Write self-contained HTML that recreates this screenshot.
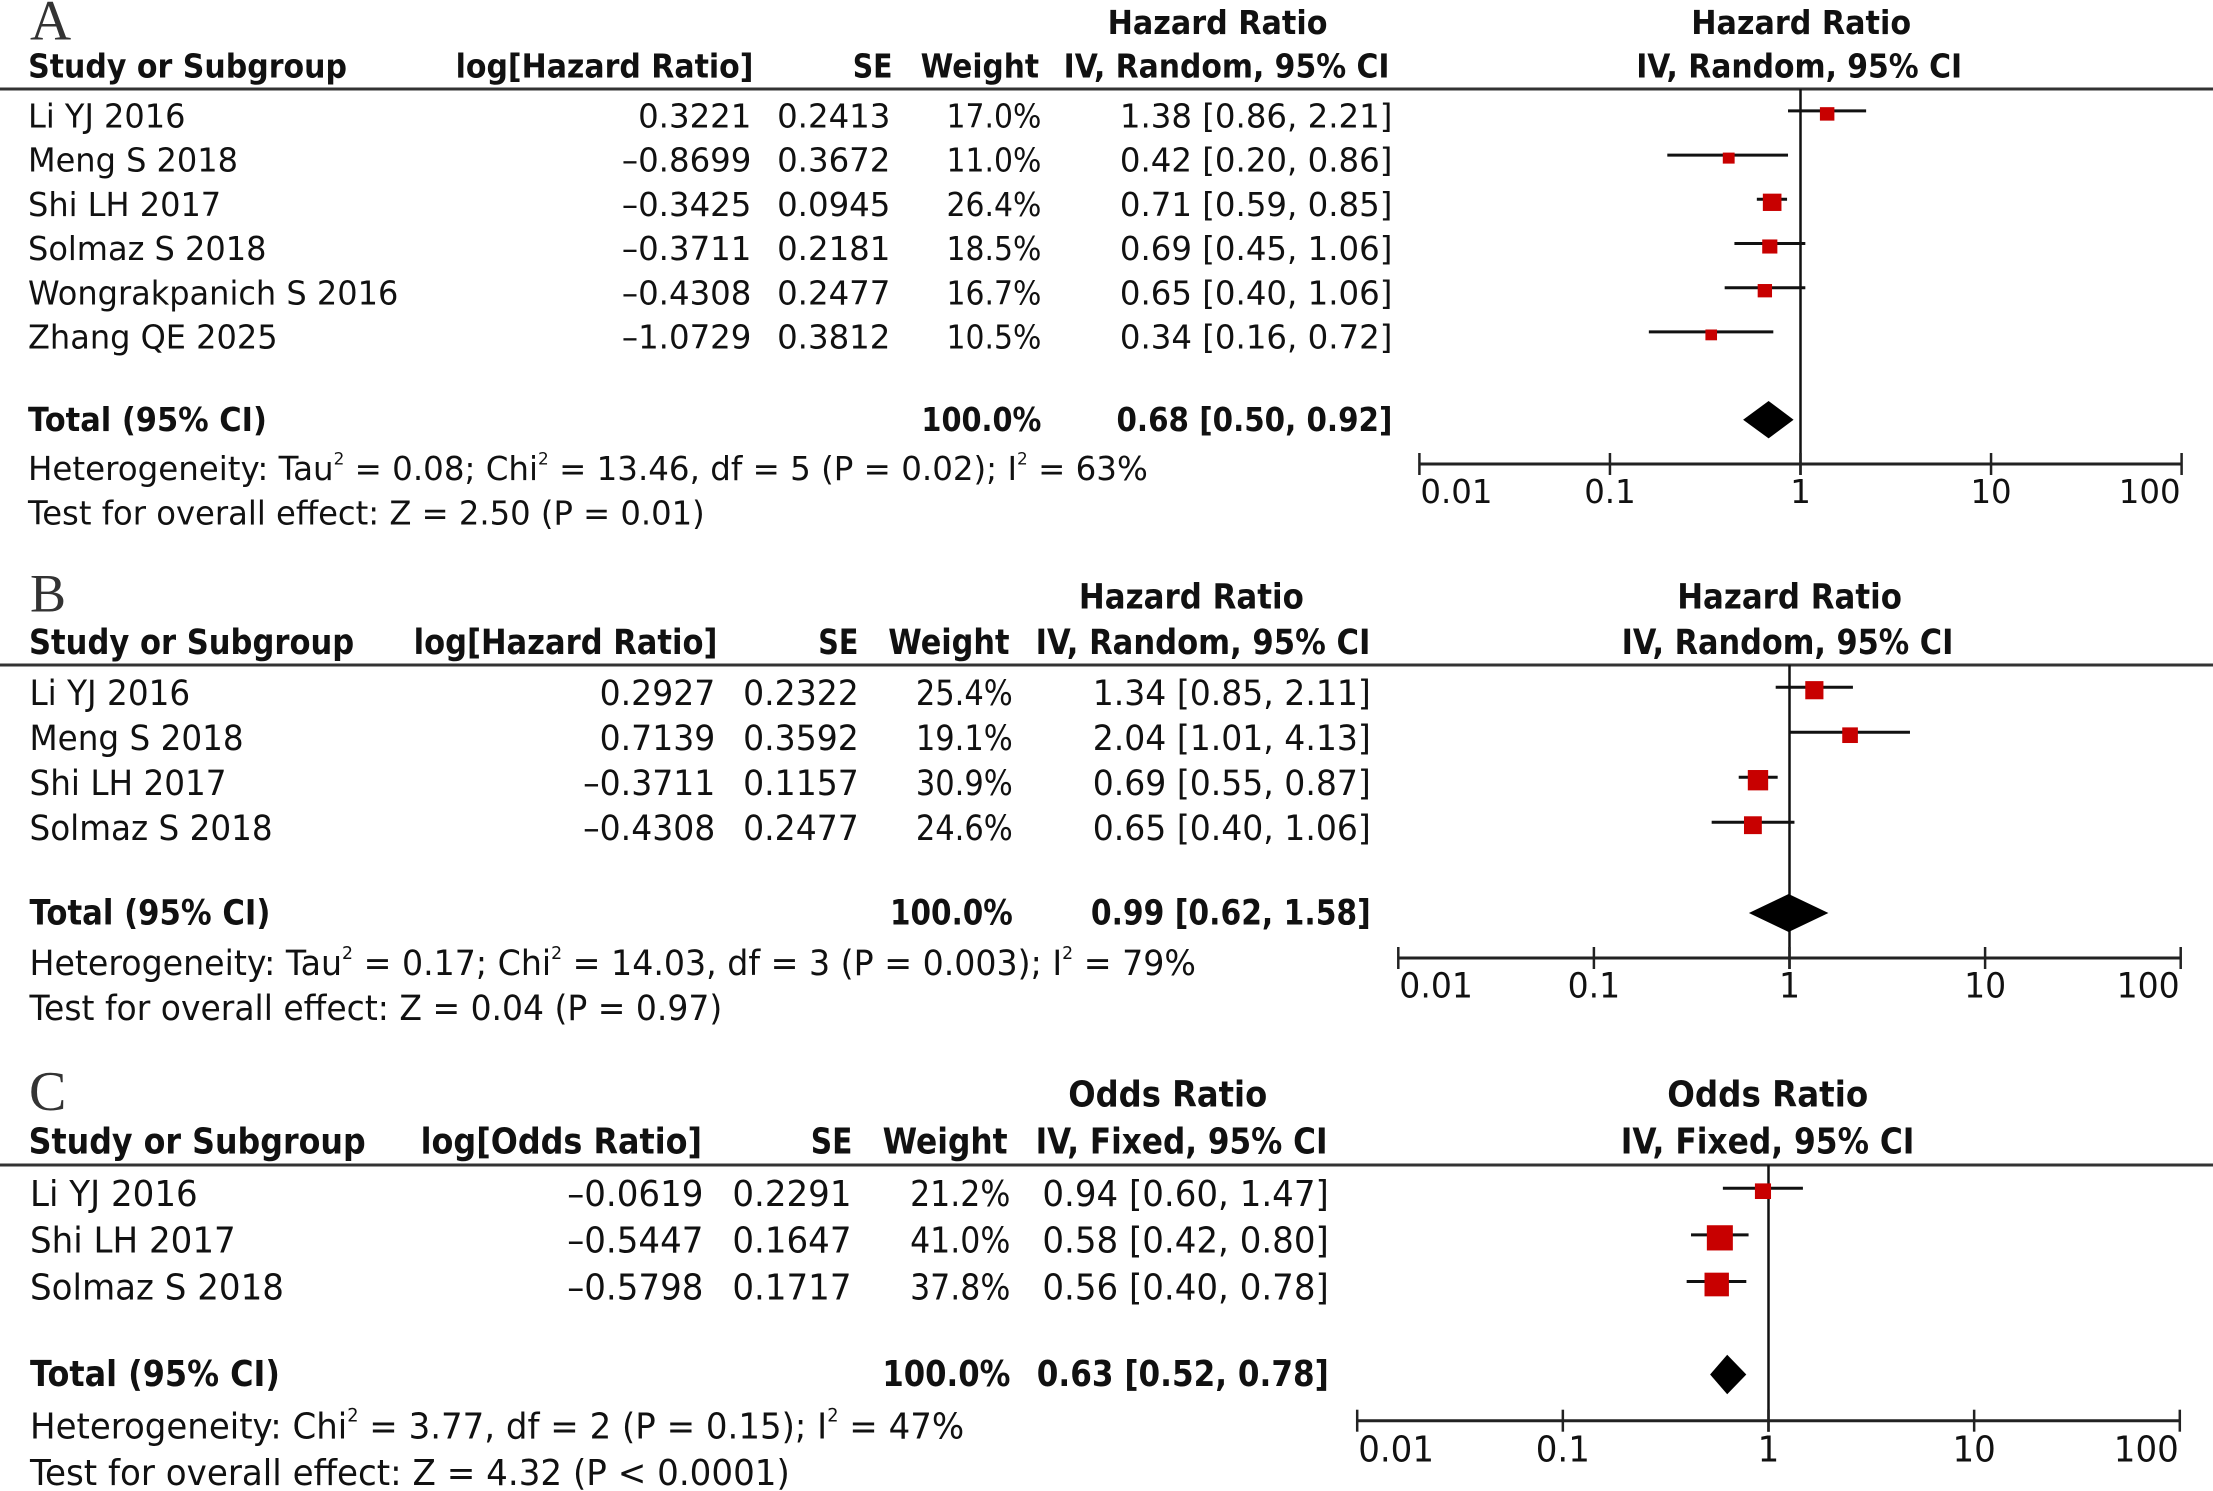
<!DOCTYPE html>
<html lang="en">
<head>
<meta charset="utf-8">
<title>Forest plots A, B and C</title>
<style>
  html, body { margin: 0; padding: 0; background: #fff; }
  svg { display: block; }
  text { font-family: "DejaVu Sans", "Liberation Sans", sans-serif; fill: #111; }
  text.letter { font-family: "Liberation Serif", serif; fill: #333; }
  text.bold { font-weight: 700; }
</style>
</head>
<body>
<svg id="figure" xmlns="http://www.w3.org/2000/svg" width="2213" height="1491" viewBox="0 0 2213 1491">
  <rect width="2213" height="1491" fill="#fff"/>
</svg>
<script>
// ---- Shared axis data ----
var tickValues = [0.01, 0.1, 1, 10, 100];
var tickLabels = ['0.01', '0.1', '1', '10', '100'];

// ---- Panel A data ----
var aStudies = ['Li YJ 2016', 'Meng S 2018', 'Shi LH 2017', 'Solmaz S 2018', 'Wongrakpanich S 2016', 'Zhang QE 2025'];
var aLogEffect = [0.3221, -0.8699, -0.3425, -0.3711, -0.4308, -1.0729];
var aSE = [0.2413, 0.3672, 0.0945, 0.2181, 0.2477, 0.3812];
var aWeight = [17.0, 11.0, 26.4, 18.5, 16.7, 10.5];
var aRatio = [1.38, 0.42, 0.71, 0.69, 0.65, 0.34];
var aLower = [0.86, 0.20, 0.59, 0.45, 0.40, 0.16];
var aUpper = [2.21, 0.86, 0.85, 1.06, 1.06, 0.72];
var aTotal = [0.68, 0.50, 0.92];
var aNotes = ['Heterogeneity: Tau^ = 0.08; Chi^ = 13.46, df = 5 (P = 0.02); I^ = 63%', 'Test for overall effect: Z = 2.50 (P = 0.01)'];

// ---- Panel B data ----
var bStudies = ['Li YJ 2016', 'Meng S 2018', 'Shi LH 2017', 'Solmaz S 2018'];
var bLogEffect = [0.2927, 0.7139, -0.3711, -0.4308];
var bSE = [0.2322, 0.3592, 0.1157, 0.2477];
var bWeight = [25.4, 19.1, 30.9, 24.6];
var bRatio = [1.34, 2.04, 0.69, 0.65];
var bLower = [0.85, 1.01, 0.55, 0.40];
var bUpper = [2.11, 4.13, 0.87, 1.06];
var bTotal = [0.99, 0.62, 1.58];
var bNotes = ['Heterogeneity: Tau^ = 0.17; Chi^ = 14.03, df = 3 (P = 0.003); I^ = 79%', 'Test for overall effect: Z = 0.04 (P = 0.97)'];

// ---- Panel C data ----
var cStudies = ['Li YJ 2016', 'Shi LH 2017', 'Solmaz S 2018'];
var cLogEffect = [-0.0619, -0.5447, -0.5798];
var cSE = [0.2291, 0.1647, 0.1717];
var cWeight = [21.2, 41.0, 37.8];
var cRatio = [0.94, 0.58, 0.56];
var cLower = [0.60, 0.42, 0.40];
var cUpper = [1.47, 0.80, 0.78];
var cTotal = [0.63, 0.52, 0.78];
var cNotes = ['Heterogeneity: Chi^ = 3.77, df = 2 (P = 0.15); I^ = 47%', 'Test for overall effect: Z = 4.32 (P < 0.0001)'];

var SVGNS = 'http://www.w3.org/2000/svg';
var figure = document.getElementById('figure');

function shape(parent, tag, name, props) {
  var el = document.createElementNS(SVGNS, tag);
  
  
  for (var k in props) { el.setAttribute(k, props[k]); }
  parent.appendChild(el);
  return el;
}

// Fills a text element, turning each "^" marker into a raised superscript 2.
function fillText(el, str, size) {
  var parts = str.split('^');
  var lift = size * 0.47;
  parts.forEach(function (part, i) {
    el.appendChild(document.createTextNode(part));
    if (i < parts.length - 1) {
      var sup = document.createElementNS(SVGNS, 'tspan');
      
      
      sup.setAttribute('font-size', size * 0.52);
      sup.setAttribute('dy', -lift);
      sup.textContent = '2';
      el.appendChild(sup);
      var reset = document.createElementNS(SVGNS, 'tspan');
      reset.setAttribute('dy', lift);
      reset.textContent = parts[i + 1];
      el.appendChild(reset);
      parts[i + 1] = '';
    }
  });
}

// Draws text horizontally squeezed: pass opt.w for an exact width, or opt.sx for a scale.
function label(parent, name, str, x, y, opt) {
  var el = document.createElementNS(SVGNS, 'text');
  
  
  el.setAttribute('font-size', opt.size);
  el.setAttribute('text-anchor', opt.anchor || 'start');
  if (opt.bold) { el.setAttribute('class', 'bold'); }
  if (opt.letter) { el.setAttribute('class', 'letter'); }
  fillText(el, str, opt.size);
  parent.appendChild(el);
  var sx = opt.sx || 1;
  if (opt.w) { sx = opt.w / el.getComputedTextLength(); }
  el.setAttribute('transform', 'translate(' + x + ',' + y + ') scale(' + sx.toFixed(4) + ',1)');
  return el;
}

function fmtSigned(v) { return v.toFixed(4).replace('-', '\u2013'); }
function fmtCI(r, lo, hi) { return r.toFixed(2) + ' [' + lo.toFixed(2) + ', ' + hi.toFixed(2) + ']'; }

function drawPanel(key, d, L) {
  var g = shape(figure, 'g', 'panel-' + key, {});
  var xScale = function (v) { return L.axisOne + Math.log10(v) * L.decade; };
  var yText = function (i) { return L.rowStart + L.textShift + i * L.rowStep; };
  var yLine = function (i) { return L.rowStart - 17.8 + i * L.rowStep; };

  label(g, 'panel-letter', key.toUpperCase(), L.letterX, L.letterY, { size: L.letterSize, letter: true });

  // Column headers
  function hdr(name, str, x, y, w) { label(g, name, str, x, y, { size: L.font, bold: true, w: w }); }
  hdr('study-header', 'Study or Subgroup', L.hStudy[0], L.hY2, L.hStudy[1]);
  hdr('log-effect-header', d.logHeader, L.hLog[0], L.hY2, L.hLog[1]);
  hdr('se-header', 'SE', L.hSE[0], L.hY2, L.hSE[1]);
  hdr('weight-header', 'Weight', L.hWeight[0], L.hY2, L.hWeight[1]);
  hdr('effect-header', d.effectName, L.hEffect[0], L.hY1, L.hEffect[1]);
  hdr('method-header', d.method, L.hMethod[0], L.hY2, L.hMethod[1]);
  hdr('plot-effect-title', d.effectName, L.pEffect[0], L.hY1, L.pEffect[1]);
  hdr('plot-method-title', d.method, L.pMethod[0], L.hY2, L.pMethod[1]);

  shape(g, 'line', 'header-rule', { x1: 0, x2: 2213, y1: L.ruleY, y2: L.ruleY, stroke: '#333', 'stroke-width': 3 });

  // Table rows
  d.studies.forEach(function (s, i) {
    var y = yText(i);
    label(g, 'study-name', s, L.leftX, y, { size: L.font, sx: L.sxName });
    label(g, 'log-effect-value', fmtSigned(d.logEffect[i]), L.cLog, y, { size: L.font, sx: L.sx, anchor: 'end' });
    label(g, 'se-value', d.se[i].toFixed(4), L.cSE, y, { size: L.font, sx: L.sx, anchor: 'end' });
    label(g, 'weight-value', d.weight[i].toFixed(1) + '%', L.cWeight, y, { size: L.font, sx: L.sxWeight, anchor: 'end' });
    label(g, 'ci-value', fmtCI(d.ratio[i], d.lower[i], d.upper[i]), L.cCI, y, { size: L.font, sx: L.sx, anchor: 'end' });
  });

  // Total row and notes
  label(g, 'total-label', 'Total (95% CI)', L.leftX, L.totalY, { size: L.font, bold: true, w: L.wTotal });
  label(g, 'total-weight', '100.0%', L.cWeight, L.totalY, { size: L.font, bold: true, anchor: 'end', w: L.wTotalWeight });
  label(g, 'total-ci', fmtCI(d.total[0], d.total[1], d.total[2]), L.cCI, L.totalY, { size: L.font, bold: true, anchor: 'end', w: L.wTotalCI });
  label(g, 'heterogeneity-note', d.notes[0], L.leftX, L.hetY, { size: L.font, w: L.wHet });
  label(g, 'overall-effect-note', d.notes[1], L.leftX, L.testY, { size: L.font, w: L.wTest });

  // Plot: reference line and axis
  var plot = shape(g, 'g', 'forest-plot', {});
  var x1 = xScale(1);
  shape(plot, 'line', 'reference-line', { x1: x1, x2: x1, y1: L.ruleY, y2: L.axisY + 11, stroke: '#111', 'stroke-width': 2.5 });
  shape(plot, 'line', 'x-axis', { x1: xScale(tickValues[0]), x2: xScale(tickValues[tickValues.length - 1]), y1: L.axisY, y2: L.axisY, stroke: '#222', 'stroke-width': 3 });
  tickValues.forEach(function (t, i) {
    var tx = xScale(t);
    shape(plot, 'line', 'x-axis-tick', { x1: tx, x2: tx, y1: L.axisY - 11, y2: L.axisY + 11, stroke: '#222', 'stroke-width': 2.5 });
    var anchor = i === 0 ? 'start' : (i === tickValues.length - 1 ? 'end' : 'middle');
    var lx = i === 0 ? tx + 1 : (i === tickValues.length - 1 ? tx - 1 : tx);
    label(plot, 'x-axis-tick-label', tickLabels[i], lx, L.tickLabelY, { size: L.font, sx: L.sx, anchor: anchor });
  });

  // Plot: confidence intervals, then weight squares
  d.studies.forEach(function (s, i) {
    var y = yLine(i);
    shape(plot, 'line', 'ci-line', { x1: xScale(d.lower[i]), x2: xScale(d.upper[i]), y1: y, y2: y, stroke: '#111', 'stroke-width': 3 });
  });
  d.studies.forEach(function (s, i) {
    var y = yLine(i) + 3;
    var bw = L.boxBase + L.boxSlope * d.weight[i];
    var bh = bw * L.boxAspect;
    shape(plot, 'rect', 'study-effect-square', { x: xScale(d.ratio[i]) - bw / 2, y: y - bh / 2, width: bw, height: bh, fill: '#c80000' });
  });

  // Plot: pooled diamond
  var dy = L.diamondY, dh = L.diamondH;
  var pts = [
    [xScale(d.total[1]), dy], [xScale(d.total[0]), dy - dh],
    [xScale(d.total[2]), dy], [xScale(d.total[0]), dy + dh]
  ].map(function (p) { return p[0].toFixed(1) + ',' + p[1]; }).join(' ');
  shape(plot, 'polygon', 'pooled-effect-diamond', { points: pts, fill: '#000' });
}

drawPanel('a', {
  studies: aStudies, logEffect: aLogEffect, se: aSE, weight: aWeight, ratio: aRatio, lower: aLower, upper: aUpper,
  total: aTotal, notes: aNotes, logHeader: 'log[Hazard Ratio]', effectName: 'Hazard Ratio', method: 'IV, Random, 95% CI'
}, {
  font: 33, sx: 0.982, sxName: 0.97, sxWeight: 0.905, leftX: 28,
  letterX: 30, letterY: 39.6, letterSize: 57,
  hY1: 33.8, hY2: 77.6, ruleY: 89,
  hStudy: [28.1, 319], hLog: [455.6, 298], hSE: [852.7, 39.8], hWeight: [920.6, 118.5], hEffect: [1107.6, 220], hMethod: [1063.6, 326],
  pEffect: [1691.2, 220], pMethod: [1636.2, 326],
  rowStart: 128.7, textShift: -1.2, rowStep: 44.2, totalY: 431, hetY: 479.8, testY: 524.6,
  cLog: 751.4, cSE: 890.4, cWeight: 1041.4, cCI: 1392.4,
  wTotal: 239, wTotalWeight: 120, wTotalCI: 276, wHet: 1120, wTest: 677,
  axisOne: 1800.5, decade: 190.55, axisY: 464, tickLabelY: 502.8,
  boxBase: 7, boxSlope: 0.44, boxAspect: 0.93, diamondY: 419.7, diamondH: 18.7
});

drawPanel('b', {
  studies: bStudies, logEffect: bLogEffect, se: bSE, weight: bWeight, ratio: bRatio, lower: bLower, upper: bUpper,
  total: bTotal, notes: bNotes, logHeader: 'log[Hazard Ratio]', effectName: 'Hazard Ratio', method: 'IV, Random, 95% CI'
}, {
  font: 34.3, sx: 0.964, sxName: 0.952, sxWeight: 0.89, leftX: 29.5,
  letterX: 30, letterY: 611.7, letterSize: 54,
  hY1: 608.3, hY2: 654, ruleY: 665,
  hStudy: [29, 325.2], hLog: [413.6, 304], hSE: [818.3, 40.1], hWeight: [888.3, 121.3], hEffect: [1078.9, 225], hMethod: [1035.6, 334.9],
  pEffect: [1677.2, 224.8], pMethod: [1621.6, 331.9],
  rowStart: 705, textShift: 0, rowStep: 45, totalY: 924.3, hetY: 975, testY: 1020,
  cLog: 715.3, cSE: 858.8, cWeight: 1012.8, cCI: 1370.8,
  wTotal: 241, wTotalWeight: 122.8, wTotalCI: 280, wHet: 1167, wTest: 693,
  axisOne: 1789.5, decade: 195.6, axisY: 958, tickLabelY: 997.7,
  boxBase: 8, boxSlope: 0.4, boxAspect: 1.0, diamondY: 913, diamondH: 19
});

drawPanel('c', {
  studies: cStudies, logEffect: cLogEffect, se: cSE, weight: cWeight, ratio: cRatio, lower: cLower, upper: cUpper,
  total: cTotal, notes: cNotes, logHeader: 'log[Odds Ratio]', effectName: 'Odds Ratio', method: 'IV, Fixed, 95% CI'
}, {
  font: 35.7, sx: 0.954, sxName: 0.955, sxWeight: 0.885, leftX: 30,
  letterX: 29, letterY: 1110, letterSize: 56,
  hY1: 1106.7, hY2: 1153.3, ruleY: 1165,
  hStudy: [28.6, 337], hLog: [420.6, 281.4], hSE: [810.7, 41.7], hWeight: [882.6, 125], hEffect: [1068.2, 199], hMethod: [1035.6, 292],
  pEffect: [1667.2, 201], pMethod: [1620.7, 293.8],
  rowStart: 1206, textShift: 0, rowStep: 46.65, totalY: 1386, hetY: 1438.3, testY: 1485,
  cLog: 703.4, cSE: 851.5, cWeight: 1010.4, cCI: 1328.8,
  wTotal: 250, wTotalWeight: 128, wTotalCI: 292, wHet: 934, wTest: 760,
  axisOne: 1768.5, decade: 205.65, axisY: 1420.7, tickLabelY: 1461.7,
  boxBase: 5.5, boxSlope: 0.5, boxAspect: 0.97, diamondY: 1374.5, diamondH: 19.8
});
</script>
</body>
</html>
